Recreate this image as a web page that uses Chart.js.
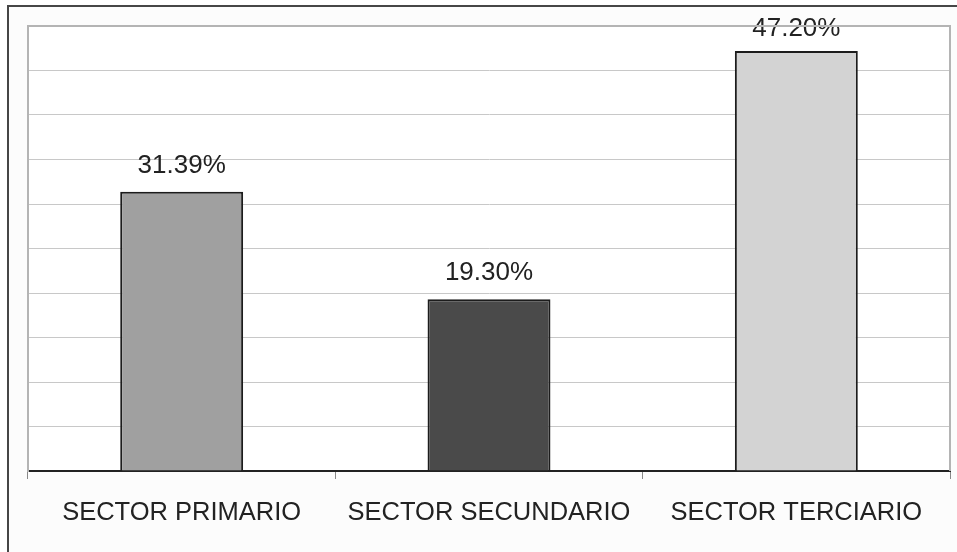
<!DOCTYPE html>
<html>
<head>
<meta charset="utf-8">
<script src="https://cdn.jsdelivr.net/npm/chart.js@4"></script>
<style>
  html, body { margin: 0; padding: 0; background: #fff; }
  body { width: 957px; height: 552px; position: relative; overflow: hidden; }
  .frame {
    position: absolute; left: 7px; top: 5px; width: 980px; height: 580px;
    border-left: 2px solid #464646; border-top: 2px solid #464646;
    background: #fcfcfc;
  }
  #chart { position: absolute; left: 0; top: 0; }
</style>
</head>
<body>
<div class="frame"></div>
<canvas id="chart" width="957" height="552"></canvas>
<script>
const sectors = ["SECTOR PRIMARIO", "SECTOR SECUNDARIO", "SECTOR TERCIARIO"];
const shares = [31.39, 19.30, 47.20];
const barColors = ["#a0a0a0", "#4a4a4a", "#d3d3d3"];
const yMax = 50;
const yStep = 5;

// white plot area + grey frame on top/right
const plotArea = {
  id: "plotArea",
  beforeDraw(chart) {
    const { ctx, chartArea: a } = chart;
    ctx.save();
    ctx.fillStyle = "#ffffff";
    ctx.fillRect(a.left, a.top, a.right - a.left, a.bottom - a.top);
    ctx.restore();
  },
  afterDraw(chart) {
    const { ctx, chartArea: a } = chart;
    ctx.save();
    ctx.strokeStyle = "#b4b4b4";
    ctx.lineWidth = 2;
    ctx.beginPath();
    ctx.moveTo(a.left, a.top);
    ctx.lineTo(a.right, a.top);
    ctx.lineTo(a.right, a.bottom);
    ctx.stroke();
    ctx.restore();
  }
};

// percentage labels above the bars
const valueLabels = {
  id: "valueLabels",
  afterDatasetsDraw(chart) {
    const { ctx } = chart;
    const meta = chart.getDatasetMeta(0);
    ctx.save();
    ctx.font = "26px 'Liberation Sans', Arial, sans-serif";
    ctx.fillStyle = "#222";
    ctx.textAlign = "center";
    ctx.textBaseline = "middle";
    meta.data.forEach((bar, i) => {
      const y = Math.max(bar.y - 26, 29);
      ctx.fillText(shares[i].toFixed(2) + "%", bar.x, y);
    });
    ctx.restore();
  }
};

new Chart(document.getElementById("chart"), {
  type: "bar",
  data: {
    labels: sectors,
    datasets: [{
      data: shares,
      backgroundColor: barColors,
      borderColor: "#1c1c1c",
      borderWidth: 2,
      barPercentage: 0.4,
      categoryPercentage: 1
    }]
  },
  options: {
    responsive: false,
    animation: false,
    layout: { padding: { left: 28, right: 7, top: 26, bottom: 0 } },
    plugins: { legend: { display: false }, tooltip: { enabled: false } },
    scales: {
      x: {
        afterFit: (scale) => { scale.height = 81; },
        grid: {
          offset: true,
          drawOnChartArea: false,
          tickLength: 8,
          color: "#888",
          tickColor: "#888"
        },
        border: { color: "#222", width: 2 },
        ticks: {
          color: "#222",
          padding: 19,
          font: { family: "'Liberation Sans', Arial, sans-serif", size: 25.5 }
        }
      },
      y: {
        min: 0,
        max: yMax,
        afterFit: (scale) => { scale.width = 0; },
        ticks: { display: false, stepSize: yStep },
        grid: { color: "#c8c8c8", lineWidth: 1, drawTicks: false },
        border: { color: "#b4b4b4", width: 2 }
      }
    }
  },
  plugins: [plotArea, valueLabels]
});
</script>
</body>
</html>
